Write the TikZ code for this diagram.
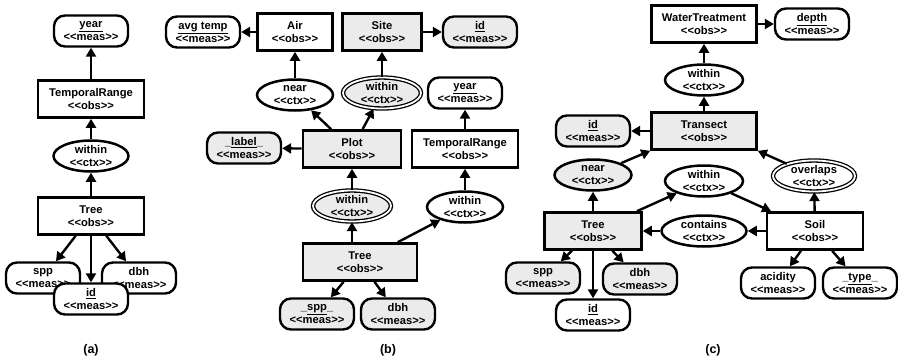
\documentclass[tikz,border=0pt]{standalone}
\usepackage{fontspec}
\setmainfont{Liberation Sans}[Ligatures=TeXOff]
\usepackage{tikz}
\usetikzlibrary{arrows.meta,shapes}
\definecolor{shade}{gray}{0.92}
\tikzstyle{obs}=[draw,rectangle,line width=2.6pt,minimum height=37pt,inner sep=2pt]
\tikzstyle{meas}=[draw,rounded corners=11pt,line width=2.4pt,minimum width=74pt,minimum height=31pt,inner sep=1pt]
\tikzstyle{ctx}=[draw,ellipse,line width=2.5pt,minimum height=31pt,inner sep=0pt]
\tikzstyle{double ctx}=[ctx,double,double distance=1.8pt,line width=1.3pt]
\tikzstyle{edge}=[draw,line width=2.4pt,-{Triangle[length=9pt,width=10pt]}]

\begin{document}
\begin{tikzpicture}[x=1pt,y=-1pt,every node/.style={align=center,font=\bfseries\fontsize{11.2}{13}\selectfont}]
    \useasboundingbox (0,0) rectangle (898,364);
    % First we draw the observation boxes
    \foreach \pos/\name/\txt/\wid/\fl in {{(91,99)/aRange/TemporalRange/106pt/white}, {(91,216)/aTree/Tree/106pt/white},
        {(295,32)/bAir/Air/75pt/white}, {(382,32)/bSite/Site/79pt/shade}, {(352,149)/bPlot/Plot/98pt/shade},
        {(465,149)/bRange/TemporalRange/106pt/white}, {(360,262)/bTree/Tree/114pt/shade},
        {(704,24)/cWater/WaterTreatment/105pt/white}, {(704,131)/cTransect/Transect/105pt/shade},
        {(593,231)/cTree/Tree/97pt/shade}, {(815,231)/cSoil/Soil/96pt/white}}
        \node[obs,minimum width=\wid,fill=\fl] (\name) at \pos {\txt\\<<obs>>};

    % measurements
    \foreach \pos/\name/\txt/\fl in {{(91,31)/aYear/{\underline{year}}/white}, {(43,278)/aSpp/spp/white},
        {(139,278)/aDbh/dbh/white}, {(91,299)/aId/{\underline{id}}/white},
        {(203,32)/bAvg/{\underline{avg temp}}/white}, {(480,32)/bId/{\underline{id}}/shade},
        {(244,148)/bLabel/{\_\underline{label}\_}/shade}, {(465,93)/bYear/{\underline{year}}/white},
        {(317,314)/bSpp/{\_\underline{spp}\_}/shade}, {(398,314)/bDbh/dbh/shade},
        {(812,24)/cDepth/{\underline{depth}}/white}, {(593,131)/cId/{\underline{id}}/shade},
        {(543,278)/cSpp/spp/shade}, {(640,279)/cDbh/dbh/shade}, {(593,315)/cIdB/{\underline{id}}/white},
        {(778,283)/cAcid/acidity/white}, {(860,283)/cType/{\_\underline{type}\_}/white}}
        \node[meas,fill=\fl] (\name) at \pos {\txt\\<<meas>>};

    % contexts
    \foreach \pos/\name/\txt/\wid/\fl in {{(91,156)/aWithin/within/75pt/white}, {(295,95)/bNear/near/76pt/white},
        {(465,207)/bWithin/within/76pt/white}, {(704,80)/cWithin/within/78pt/white},
        {(704,181)/cWithinB/within/78pt/white}, {(704,231)/cContains/contains/85pt/white},
        {(593,175)/cNear/near/77pt/shade}}
        \node[ctx,minimum width=\wid,fill=\fl] (\name) at \pos {\txt\\<<ctx>>};
    \foreach \pos/\name/\txt/\wid/\fl in {{(382,93)/bWithinS/within/78pt/shade}, {(352,206)/bWithinP/within/78pt/shade},
        {(814,176)/cOverlaps/overlaps/82pt/white}}
        \node[double ctx,minimum width=\wid,fill=\fl] (\name) at \pos {\txt\\<<ctx>>};

    % Connect nodes with edges
    \foreach \source/\dest in {aTree/aWithin, aWithin/aRange, aRange/aYear, aTree/aSpp, aTree/aDbh, aTree/aId,
        bAir/bAvg, bNear/bAir, bPlot/bNear, bPlot/bLabel, bPlot/bWithinS, bWithinS/bSite, bSite/bId,
        bWithinP/bPlot, bTree.north -| bWithinP/bWithinP, bTree/bWithin, bWithin/bRange, bRange/bYear,
        bTree/bSpp, bTree/bDbh,
        cWater/cDepth, cWithin/cWater, cTransect/cWithin, cTransect/cId, cNear/cTransect.south west,
        cOverlaps/cTransect.south east, cTree/cNear, cTree/cWithinB, cWithinB/cSoil, cSoil/cOverlaps,
        cSoil/cContains, cContains/cTree, cTree/cSpp, cTree/cDbh, cTree/cIdB, cSoil/cAcid, cSoil/cType}
        \path[edge] (\source) -- (\dest);

    \node[font=\bfseries\fontsize{12.5}{14}\selectfont] (capA) at (91,350) {(a)};
    \node[font=\bfseries\fontsize{12.5}{14}\selectfont] (capB) at (388,350) {(b)};
    \node[font=\bfseries\fontsize{12.5}{14}\selectfont] (capC) at (713,350) {(c)};
\end{tikzpicture}
\end{document}
